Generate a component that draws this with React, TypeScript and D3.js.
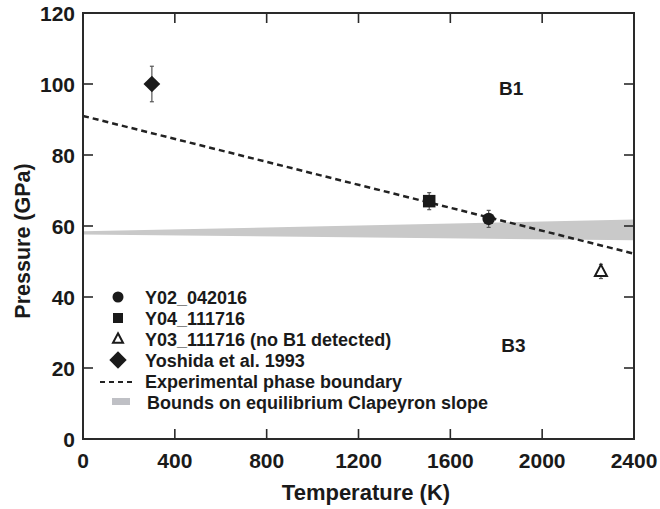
import React, { useEffect, useRef } from "react";
import * as d3 from "d3";

// measured points
const sampleNames = ["Y02_042016", "Y04_111716", "Y03_111716 (no B1 detected)", "Yoshida et al. 1993"];
const sampleShapes = ["circle", "square", "triangle", "diamond"];
const sampleT = [1767, 1508, 2256, 300];
const sampleP = [62, 67, 47.2, 100];
const sampleErr = [2.4, 2.4, 2, 5];

// experimental phase boundary
const boundaryT = [0, 2400];
const boundaryP = [91, 52.2];

// Clapeyron slope bounds
const bandT = [0, 2400];
const bandUpper = [58.5, 61.8];
const bandLower = [57.6, 56.0];

const xTicks = [0, 400, 800, 1200, 1600, 2000, 2400];
const yTicks = [0, 20, 40, 60, 80, 100, 120];

const phaseLabels = ["B1", "B3"];
const phaseT = [1865, 1875];
const phaseP = [99, 26.5];

const legendExtra = ["Experimental phase boundary", "Bounds on equilibrium Clapeyron slope"];

const FONT = "'Liberation Sans', Arial, Helvetica, sans-serif";

const App = () => {
    const svgRef = useRef<SVGSVGElement>(null);

    useEffect(() => {
        const width = 660;
        const height = 509;
        const margin = { top: 13, right: 26, bottom: 70, left: 83 };

        const svg = d3.select(svgRef.current);
        svg.selectAll("*").remove();

        const x = d3.scaleLinear().domain([0, 2400]).range([margin.left, width - margin.right]);
        const y = d3.scaleLinear().domain([0, 120]).range([height - margin.bottom, margin.top]);

        const x0 = x(0), x1 = x(2400), y0 = y(0), y1 = y(120);

        // grey band
        const band = d3.area<number>()
            .x((d, i) => x(bandT[i]))
            .y0((d, i) => y(bandLower[i]))
            .y1((d, i) => y(bandUpper[i]));
        svg.append("path")
            .datum(bandT)
            .attr("d", band)
            .attr("fill", "#c9c9c9");

        // dashed boundary
        const line = d3.line<number>()
            .x((d, i) => x(boundaryT[i]))
            .y((d, i) => y(boundaryP[i]));
        svg.append("path")
            .datum(boundaryT)
            .attr("d", line)
            .attr("fill", "none")
            .attr("stroke", "#222")
            .attr("stroke-width", 2.5)
            .attr("stroke-dasharray", "6,4");

        // error bars
        sampleT.forEach((t, i) => {
            const g = svg.append("g").attr("stroke", "#555").attr("stroke-width", 1.2);
            const cx = x(t);
            const ya = y(sampleP[i] + sampleErr[i]);
            const yb = y(sampleP[i] - sampleErr[i]);
            g.append("line").attr("x1", cx).attr("x2", cx).attr("y1", ya).attr("y2", yb);
            g.append("line").attr("x1", cx - 2).attr("x2", cx + 2).attr("y1", ya).attr("y2", ya);
            g.append("line").attr("x1", cx - 2).attr("x2", cx + 2).attr("y1", yb).attr("y2", yb);
        });

        const drawMarker = (g, shape, cx, cy, s) => {
            if (shape === "circle") {
                g.append("circle").attr("cx", cx).attr("cy", cy).attr("r", s * 0.5).attr("fill", "#1a1a1a");
            } else if (shape === "square") {
                g.append("rect").attr("x", cx - s * 0.5).attr("y", cy - s * 0.5)
                    .attr("width", s).attr("height", s).attr("fill", "#1a1a1a");
            } else if (shape === "triangle") {
                const h = s * 0.95;
                g.append("path")
                    .attr("d", `M${cx},${cy - h * 0.6}L${cx + s * 0.5},${cy + h * 0.4}L${cx - s * 0.5},${cy + h * 0.4}Z`)
                    .attr("fill", "#fff").attr("stroke", "#1a1a1a").attr("stroke-width", 2);
            } else {
                const r = s * 0.62;
                g.append("path")
                    .attr("d", `M${cx},${cy - r}L${cx + r},${cy}L${cx},${cy + r}L${cx - r},${cy}Z`)
                    .attr("fill", "#1a1a1a");
            }
        };

        const markerSize = [12.5, 12.5, 12, 13.5];
        sampleT.forEach((t, i) => {
            drawMarker(svg, sampleShapes[i], x(t), y(sampleP[i]), markerSize[i]);
        });

        // frame
        svg.append("rect")
            .attr("x", x0).attr("y", y1)
            .attr("width", x1 - x0).attr("height", y0 - y1)
            .attr("fill", "none").attr("stroke", "#2a2a2a").attr("stroke-width", 2);

        // inward ticks on all sides
        const tickLen = 10;
        const ticks = svg.append("g").attr("stroke", "#2a2a2a").attr("stroke-width", 1.6);
        xTicks.forEach(t => {
            ticks.append("line").attr("x1", x(t)).attr("x2", x(t)).attr("y1", y0).attr("y2", y0 - tickLen);
            ticks.append("line").attr("x1", x(t)).attr("x2", x(t)).attr("y1", y1).attr("y2", y1 + tickLen);
        });
        yTicks.forEach(p => {
            ticks.append("line").attr("x1", x0).attr("x2", x0 + tickLen).attr("y1", y(p)).attr("y2", y(p));
            ticks.append("line").attr("x1", x1).attr("x2", x1 - tickLen).attr("y1", y(p)).attr("y2", y(p));
        });

        const txt = svg.append("g")
            .attr("font-family", FONT)
            .attr("font-weight", "bold")
            .attr("fill", "#1a1a1a");

        xTicks.forEach(t => {
            txt.append("text").attr("x", x(t)).attr("y", y0 + 29)
                .attr("text-anchor", "middle").attr("font-size", 21).text(d3.format("d")(t));
        });
        yTicks.forEach(p => {
            txt.append("text").attr("x", x0 - 8).attr("y", y(p) + 7.5)
                .attr("text-anchor", "end").attr("font-size", 21).text(p);
        });

        txt.append("text")
            .attr("x", 366).attr("y", 500)
            .attr("text-anchor", "middle").attr("font-size", 22)
            .text("Temperature (K)");

        txt.append("text")
            .attr("transform", "translate(30,241) rotate(-90)")
            .attr("text-anchor", "middle").attr("font-size", 21.5)
            .text("Pressure (GPa)");

        phaseLabels.forEach((lab, i) => {
            txt.append("text")
                .attr("x", x(phaseT[i])).attr("y", y(phaseP[i]) + 7)
                .attr("text-anchor", "middle").attr("font-size", 19)
                .text(lab);
        });

        // legend
        const lx = 118, ly = 297, dy = 21;
        const leg = svg.append("g");
        const legMarker = [11, 10, 10, 14];
        sampleNames.forEach((name, i) => {
            drawMarker(leg, sampleShapes[i], lx, ly + i * dy, legMarker[i]);
            txt.append("text").attr("x", 145).attr("y", ly + i * dy + 6.5)
                .attr("font-size", 18).text(name);
        });
        leg.append("line")
            .attr("x1", 100).attr("x2", 133)
            .attr("y1", ly + 4 * dy + 1).attr("y2", ly + 4 * dy + 1)
            .attr("stroke", "#222").attr("stroke-width", 2).attr("stroke-dasharray", "5,4");
        txt.append("text").attr("x", 145).attr("y", ly + 4 * dy + 6.5)
            .attr("font-size", 18).text(legendExtra[0]);
        leg.append("rect")
            .attr("x", 112).attr("y", ly + 5 * dy - 4)
            .attr("width", 18).attr("height", 7)
            .attr("fill", "#bfc0c5");
        txt.append("text").attr("x", 147).attr("y", ly + 5 * dy + 6.5)
            .attr("font-size", 18).text(legendExtra[1]);
    }, []);

    return (
        <svg
            ref={svgRef}
            width={660}
            height={509}
            style={{ position: "absolute", left: 0, top: 0, background: "#fff" }}
        />
    );
};

export default App;
